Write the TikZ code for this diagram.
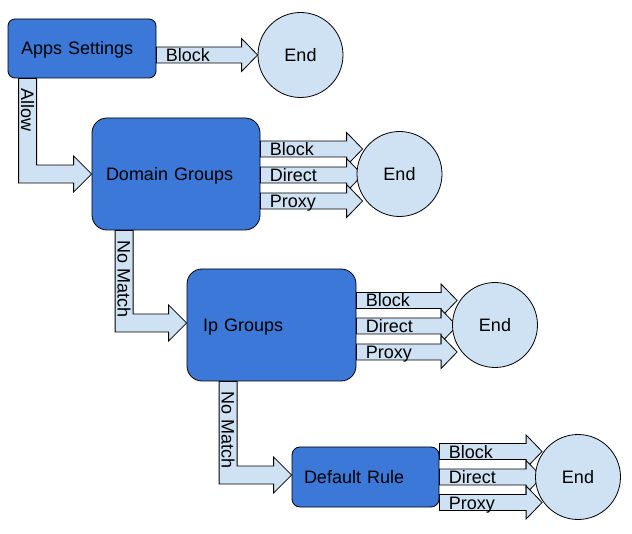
\documentclass[tikz,border=0pt]{standalone}
\usepackage{fontspec}
\setmainfont{Liberation Sans}
\usepackage{tikz}
\usetikzlibrary{positioning,calc}
\pgfdeclarelayer{back}
\pgfsetlayers{back,main}
\definecolor{c_box}{HTML}{3C78D8}
\definecolor{c_flow}{HTML}{CFE2F3}
\tikzset{c-box/.style={rectangle, rounded corners=7pt, draw=black, line width=0.8pt, fill=c_box, inner xsep=13pt, inner ysep=0pt, align=left, text height=13pt, text depth=0pt, font=\fontsize{18}{21}\selectfont},
c-end/.style={circle, draw=black, line width=0.8pt, fill=c_flow, minimum size=85pt, inner sep=0pt, text height=13pt, text depth=0pt, font=\fontsize{18}{21}\selectfont},
c-label/.style={anchor=base west, inner sep=0pt, font=\fontsize{18}{21}\selectfont, xshift=9pt, yshift=-6.5pt},
c-vlabel/.style={anchor=base west, inner sep=0pt, font=\fontsize{18}{21}\selectfont, xshift=-6.5pt, yshift=-10pt, rotate=-90},
flow/.style={draw=black, line width=0.8pt, fill=c_flow, to path={let \p1=(\tikztostart), \p2=(\tikztotarget) in
(\x1,\y1+8) -- (\x2-16,\y1+8) -- (\x2-16,\y1+16.5) -- (\x2,\y1) -- (\x2-16,\y1-16.5) -- (\x2-16,\y1-8) -- (\x1,\y1-8) -- cycle \tikztonodes}},
flow-down/.style={draw=black, line width=0.8pt, fill=c_flow, to path={let \p1=(\tikztostart), \p2=(\tikztotarget) in
(\x1-9,\y1) -- (\x1-9,\y2-9) -- (\x2-18,\y2-9) -- (\x2-18,\y2-18) -- (\x2,\y2) -- (\x2-18,\y2+18) -- (\x2-18,\y2+9) -- (\x1+9,\y2+9) -- (\x1+9,\y1) -- cycle \tikztonodes}}}

\begin{document}
\begin{tikzpicture}[x=1pt, y=-1pt, node distance=223.5pt]
\useasboundingbox (0,0) rectangle (632,534);
\node (apps) [c-box, minimum width=148pt, minimum height=59pt, text width=122pt] at (82,48.5) {Apps Settings};
\node (dom) [c-box, rounded corners=15pt, minimum width=168pt, minimum height=112pt, inner xsep=14pt, text width=140pt] at (176,174) {Domain Groups};
\node (ip) [c-box, rounded corners=15pt, minimum width=169pt, minimum height=112pt, inner xsep=16pt, text width=137pt] at (271.5,325) {Ip Groups};
\node (def) [c-box, rounded corners=8pt, minimum width=147pt, minimum height=60pt, inner xsep=12pt, text width=123pt] at (365.5,477) {Default Rule};
\node (end1) [c-end, right of=apps, xshift=-5pt, yshift=-6.5pt] {End};
\node (end2) [c-end, right of=dom] {End};
\node (end3) [c-end, right of=ip] {End};
\node (end4) [c-end, right of=def, xshift=-11pt] {End};
\begin{pgfonlayer}{back}
\draw [flow] ([yshift=-6.5pt]apps.east) to node[c-label] {Block} (end1.west);
\draw [flow-down] ([xshift=20pt]apps.south west) to node[c-vlabel] {Allow} (dom.west);
\draw [flow] ([yshift=25pt]dom.east) to node[c-label] {Block} ([xshift=6pt]end2.west);
\draw [flow] ([yshift=-1pt]dom.east) to node[c-label] {Direct} ([xshift=6pt]end2.west);
\draw [flow] ([yshift=-27pt]dom.east) to node[c-label] {Proxy} ([xshift=6pt]end2.west);
\draw [flow-down] ([xshift=32.5pt]dom.south west) to node[c-vlabel] {No Match} ([yshift=2pt]ip.west);
\draw [flow] ([yshift=24.5pt]ip.east) to node[c-label] {Block} ([xshift=5pt]end3.west);
\draw [flow] ([yshift=-1pt]ip.east) to node[c-label] {Direct} ([xshift=5pt]end3.west);
\draw [flow] ([yshift=-27pt]ip.east) to node[c-label] {Proxy} ([xshift=5pt]end3.west);
\draw [flow-down] ([xshift=41.5pt]ip.south west) to node[c-vlabel] {No Match} ([yshift=2pt]def.west);
\draw [flow] ([yshift=25.5pt]def.east) to node[c-label] {Block} ([xshift=7pt]end4.west);
\draw [flow] (def.east) to node[c-label] {Direct} ([xshift=7pt]end4.west);
\draw [flow] ([yshift=-25.5pt]def.east) to node[c-label] {Proxy} ([xshift=7pt]end4.west);
\end{pgfonlayer}
\end{tikzpicture}
\end{document}
